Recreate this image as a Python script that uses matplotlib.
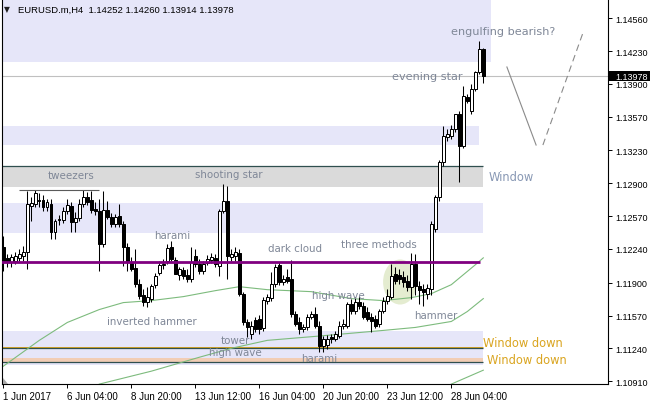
import matplotlib
matplotlib.use("Agg")
import matplotlib.pyplot as plt
from matplotlib.patches import Rectangle, Ellipse, Polygon
import numpy as np

# ---------------- data (H4 candles, EURUSD) ----------------
opens = [1.1226, 1.1215, 1.1211, 1.1212, 1.1215, 1.1217, 1.1221, 1.1267, 1.1269, 1.1273,
         1.1273, 1.1266, 1.1269, 1.1241, 1.1253, 1.1253, 1.1262, 1.1267, 1.1251, 1.1255,
         1.1269, 1.1276, 1.1273, 1.1264, 1.1262, 1.1229, 1.1263, 1.1256, 1.1249, 1.1257,
         1.1249, 1.1226, 1.1211, 1.1205, 1.1189, 1.1178, 1.1171, 1.1174, 1.1188, 1.1200,
         1.1208, 1.1212, 1.1226, 1.1213, 1.1198, 1.1203, 1.1198, 1.1194, 1.1217, 1.1209,
         1.1202, 1.1210, 1.1213, 1.1215, 1.1207, 1.1262, 1.1272, 1.1216, 1.1217, 1.1220,
         1.1179, 1.1150, 1.1138, 1.1152, 1.1153, 1.1144, 1.1172, 1.1175, 1.1189, 1.1208,
         1.1191, 1.1196, 1.1194, 1.1159, 1.1150, 1.1143, 1.1145, 1.1155, 1.1159, 1.1146,
         1.1126, 1.1127, 1.1135, 1.1133, 1.1136, 1.1146, 1.1146, 1.1169, 1.1162, 1.1171,
         1.1167, 1.1161, 1.1155, 1.1153, 1.1148, 1.1162, 1.1172, 1.1176, 1.1199, 1.1198,
         1.1196, 1.1192, 1.1186, 1.1209, 1.1187, 1.1184, 1.1179, 1.1184, 1.1244, 1.1276,
         1.1311, 1.1337, 1.1338, 1.1345, 1.1360, 1.1328, 1.1377, 1.1363, 1.1385, 1.1402,
         1.14252]
highs = [1.1237, 1.1219, 1.1219, 1.1221, 1.1224, 1.1227, 1.1282, 1.1276, 1.1283, 1.1280,
         1.1278, 1.1274, 1.1274, 1.1254, 1.1258, 1.1266, 1.1274, 1.1271, 1.1261, 1.1274,
         1.1283, 1.1281, 1.1282, 1.1271, 1.1274, 1.1282, 1.1272, 1.1260, 1.1259, 1.1269,
         1.1252, 1.1230, 1.1216, 1.1224, 1.1194, 1.1184, 1.1186, 1.1189, 1.1200, 1.1212,
         1.1214, 1.1229, 1.1232, 1.1216, 1.1206, 1.1206, 1.1204, 1.1226, 1.1224, 1.1214,
         1.1212, 1.1218, 1.1220, 1.1219, 1.1264, 1.1289, 1.1287, 1.1224, 1.1226, 1.1224,
         1.1181, 1.1153, 1.1151, 1.1156, 1.1158, 1.1176, 1.1179, 1.1201, 1.1209, 1.1211,
         1.1198, 1.1204, 1.1213, 1.1162, 1.1155, 1.1148, 1.1159, 1.1162, 1.1166, 1.1151,
         1.1136, 1.1137, 1.1138, 1.1141, 1.1151, 1.1153, 1.1171, 1.1174, 1.1176, 1.1177,
         1.1171, 1.1166, 1.1160, 1.1158, 1.1164, 1.1176, 1.1184, 1.1209, 1.1206, 1.1204,
         1.1202, 1.1198, 1.1220, 1.1219, 1.1192, 1.1189, 1.1189, 1.1252, 1.1278, 1.1313,
         1.1348, 1.1345, 1.1349, 1.1360, 1.1363, 1.1388, 1.1380, 1.1390, 1.1403, 1.1433,
         1.14260]
lows = [1.1202, 1.1206, 1.1206, 1.1209, 1.1212, 1.1212, 1.1204, 1.1252, 1.1266, 1.1266,
        1.1262, 1.1262, 1.1234, 1.1234, 1.1248, 1.1250, 1.1259, 1.1241, 1.1241, 1.1252,
        1.1266, 1.1268, 1.1260, 1.1258, 1.1202, 1.1226, 1.1254, 1.1246, 1.1246, 1.1246,
        1.1207, 1.1202, 1.1202, 1.1186, 1.1174, 1.1167, 1.1166, 1.1171, 1.1185, 1.1198,
        1.1204, 1.1209, 1.1212, 1.1199, 1.1193, 1.1194, 1.1191, 1.1191, 1.1206, 1.1199,
        1.1199, 1.1208, 1.1210, 1.1206, 1.1197, 1.1260, 1.1194, 1.1212, 1.1212, 1.1177,
        1.1147, 1.1135, 1.1133, 1.1140, 1.1138, 1.1141, 1.1169, 1.1172, 1.1186, 1.1188,
        1.1188, 1.1190, 1.1156, 1.1146, 1.1138, 1.1140, 1.1142, 1.1153, 1.1144, 1.1120,
        1.1120, 1.1123, 1.1129, 1.1131, 1.1134, 1.1143, 1.1144, 1.1159, 1.1159, 1.1164,
        1.1153, 1.1151, 1.1140, 1.1144, 1.1145, 1.1160, 1.1169, 1.1174, 1.1189, 1.1189,
        1.1186, 1.1182, 1.1174, 1.1178, 1.1169, 1.1167, 1.1174, 1.1178, 1.1241, 1.1272,
        1.1307, 1.1333, 1.1335, 1.1342, 1.1291, 1.1326, 1.1371, 1.1360, 1.1383, 1.1400,
        1.13914]
closes = [1.1212, 1.1211, 1.1216, 1.1217, 1.1219, 1.1221, 1.1269, 1.1270, 1.1280, 1.1272,
          1.1266, 1.1271, 1.1241, 1.1252, 1.1254, 1.1262, 1.1268, 1.1251, 1.1255, 1.1269,
          1.1276, 1.1271, 1.1263, 1.1262, 1.1229, 1.1263, 1.1256, 1.1249, 1.1256, 1.1249,
          1.1226, 1.1211, 1.1204, 1.1189, 1.1177, 1.1171, 1.1176, 1.1187, 1.1197, 1.1208,
          1.1209, 1.1225, 1.1214, 1.1199, 1.1204, 1.1197, 1.1194, 1.1211, 1.1209, 1.1202,
          1.1209, 1.1214, 1.1216, 1.1209, 1.1262, 1.1272, 1.1217, 1.1219, 1.1221, 1.1179,
          1.1150, 1.1145, 1.1146, 1.1143, 1.1143, 1.1173, 1.1176, 1.1189, 1.1206, 1.1191,
          1.1194, 1.1192, 1.1159, 1.1148, 1.1143, 1.1145, 1.1156, 1.1159, 1.1146, 1.1126,
          1.1133, 1.1133, 1.1133, 1.1138, 1.1146, 1.1148, 1.1169, 1.1162, 1.1171, 1.1167,
          1.1155, 1.1153, 1.1151, 1.1146, 1.1162, 1.1172, 1.1177, 1.1197, 1.1192, 1.1194,
          1.1191, 1.1186, 1.1209, 1.1187, 1.1183, 1.1181, 1.1185, 1.1249, 1.1276, 1.1311,
          1.1338, 1.1340, 1.1345, 1.1360, 1.1328, 1.1378, 1.1373, 1.1385, 1.1402, 1.1425,
          1.13978]

xtick_idx = [0, 16, 32, 48, 64, 80, 96, 112]
xtick_labels = ["1 Jun 2017", "6 Jun 04:00", "8 Jun 20:00", "13 Jun 12:00",
                "16 Jun 04:00", "20 Jun 20:00", "23 Jun 12:00", "28 Jun 04:00"]
ytick_vals = [1.14560, 1.14230, 1.13900, 1.13570, 1.13230, 1.12900,
              1.12570, 1.12240, 1.11900, 1.11570, 1.11240, 1.10910]

# moving averages
ma1_idx = [0, 9, 16, 24, 30, 37, 45, 53, 59, 66, 77, 87, 95, 102, 107, 112, 115, 118, 120]
ma1_val = [1.1106, 1.1132, 1.1150, 1.1163, 1.1170, 1.1172, 1.1176, 1.1182, 1.1186, 1.1183,
           1.1181, 1.1174, 1.1172, 1.1175, 1.1179, 1.1188, 1.1198, 1.1208, 1.1215]
ma2_idx = [24, 27, 37, 49, 57, 66, 78, 95, 103, 112, 116, 120]
ma2_val = [1.1088, 1.1091, 1.1101, 1.1115, 1.1124, 1.1132, 1.1136, 1.1142, 1.1145,
           1.1151, 1.1161, 1.1174]
ma3_idx = [112, 116, 120]
ma3_val = [1.1088, 1.1095, 1.1102]

# zones (bottom price, top price, right end bar index)
lavender_zones = [(1.1412, 1.1490, 121.8), (1.13288, 1.13476, 119.0),
                  (1.12397, 1.12702, 120.0), (1.11075, 1.11417, 120.0)]
grey_zone = (1.12866, 1.13077, 120.0)
peach_zone = (1.11099, 1.11142, 120.0)
purple_level = 1.12108
window_down_levels = [1.11240, 1.11099]
tweezers_level = 1.1283
tweezers_span = (4, 24)
circle_center = (99.2, 1.11907)

proj1_idx = [125.9, 133.2]
proj1_val = [1.1407, 1.13285]
proj2_idx = [134.9, 144.9]
proj2_val = [1.13285, 1.14412]

labels = [("tweezers", 16.9, 1.12983), ("shooting star", 56.3, 1.12994),
          ("harami", 42.1, 1.12380), ("dark cloud", 72.9, 1.12249),
          ("three methods", 93.9, 1.12292), ("high wave", 83.8, 1.11779),
          ("hammer", 108.1, 1.11575), ("inverted hammer", 37.05, 1.11518),
          ("tower", 58.0, 1.11327), ("high wave", 57.9, 1.11200),
          ("harami", 78.9, 1.11139)]
big_labels = [("evening star", 105.9, 1.13979), ("engulfing bearish?", 124.9, 1.14435)]

# ---------------- figure ----------------
W, H = 650, 406
fig = plt.figure(figsize=(W / 100, H / 100), dpi=100)
fig.patch.set_facecolor("white")
ax = fig.add_axes([2 / W, 21 / H, 606 / W, 385 / H])
ax.set_xlim(-0.325, 151.175)
ax.set_ylim(1.10881, 1.14754)
ax.set_facecolor("white")

LAV = "#E6E6F9"
for lo, hi, right in lavender_zones:
    ax.add_patch(Rectangle((-5, lo), right + 5, hi - lo, fc=LAV, ec="none", zorder=0.5))
lo, hi, right = grey_zone
ax.add_patch(Rectangle((-5, lo), right + 5, hi - lo, fc="#DADADA", ec="none", zorder=0.5))
ax.hlines(hi, -5, right, color="#2F4F4F", lw=0.9, zorder=0.7)
lo, hi, right = peach_zone
ax.add_patch(Rectangle((-5, lo), right + 5, hi - lo, fc="#F2CDB5", ec="none", zorder=0.6))
ax.hlines(window_down_levels[0] + 0.0001, -5, 120, color="#DAA520", lw=0.7, zorder=0.7)
for lv in window_down_levels:
    ax.hlines(lv, -5, 120, color="#2F4F4F", lw=0.9, zorder=0.8)

ax.add_patch(Ellipse(circle_center, 8.5, 0.00453, fc="#E4ECD0", ec="none", zorder=0.9))

ax.axhline(closes[-1], color="#C0C0C0", lw=0.8, zorder=0.8)

GREEN = "#7DBB7D"
for xi, yv in [(ma1_idx, ma1_val), (ma2_idx, ma2_val), (ma3_idx, ma3_val)]:
    ax.plot(xi, yv, color=GREEN, lw=0.8, zorder=2.5)

# candles
idx = np.arange(len(opens))
o = np.array(opens); h = np.array(highs); l = np.array(lows); c = np.array(closes)
up = c >= o
ax.vlines(idx, l, h, color="black", lw=0.75, zorder=3)
ax.bar(idx, np.abs(c - o), bottom=np.minimum(o, c), width=0.6,
       color=np.where(up, "white", "black"), edgecolor="black", linewidth=0.72, zorder=3.2)

ax.hlines(purple_level, -5, 119.2, color="#800080", lw=2.0, zorder=3.5)
ax.hlines(tweezers_level, tweezers_span[0], tweezers_span[1], color="#5A5A5A", lw=0.8, zorder=3.5)

ax.plot(proj1_idx, proj1_val, color="#8A8A8A", lw=0.8, zorder=3)
ax.plot(proj2_idx, proj2_val, color="#8A8A8A", lw=0.8, ls=(0, (6, 4)), zorder=3)

TXT = "#7F8797"
for s, xi, yv in labels:
    ax.text(xi, yv, s, ha="center", va="center", fontsize=7.4, color=TXT,
            family="DejaVu Sans", zorder=4)
for s, xi, yv in big_labels:
    ax.text(xi, yv, s, ha="center", va="center", fontsize=8.1, color=TXT,
            family="DejaVu Sans", zorder=4)
ax.text(126.9, 1.1297, "Window", ha="center", va="center", fontsize=8.3,
        color="#8898B4", family="DejaVu Sans", zorder=4)
ax.text(129.9, 1.1130, "Window down", ha="center", va="center", fontsize=8.3,
        color="#DAA520", family="DejaVu Sans", zorder=4)
ax.text(130.9, 1.11125, "Window down", ha="center", va="center", fontsize=8.3,
        color="#DAA520", family="DejaVu Sans", zorder=4)

# axes styling
for side in ["left", "right", "bottom"]:
    ax.spines[side].set_color("black")
    ax.spines[side].set_linewidth(0.8)
ax.spines["top"].set_visible(False)

ax.yaxis.tick_right()
ax.set_yticks(ytick_vals)
ax.set_yticklabels([f"{v:.5f}" for v in ytick_vals], family="Liberation Sans")
ax.tick_params(axis="y", direction="out", length=3, width=0.7, pad=2, labelsize=6.5)
ax.set_xticks(xtick_idx)
ax.set_xticklabels(xtick_labels, ha="left", family="Liberation Sans")
ax.tick_params(axis="x", direction="out", length=3, width=0.7, pad=2, labelsize=7)

# current price box on the price scale
fig.canvas.draw()
ypix = ax.transData.transform((0, closes[-1]))[1]
fig.add_artist(Rectangle((609 / W, (ypix - 5) / H), 41 / W, 10 / H,
                         transform=fig.transFigure, fc="black", ec="none", zorder=5))
fig.text(615 / W, ypix / H, f"{closes[-1]:.5f}", color="white", fontsize=6.5,
         family="Liberation Sans", va="center", ha="left", zorder=6)

# title
fig.text(4 / W, 1 - 10 / H, "\u25BC", fontsize=5.5, family="DejaVu Sans", va="center", color="#202020")
fig.text(18 / W, 1 - 10 / H,
         f"EURUSD.m,H4  {opens[-1]:.5f} {highs[-1]:.5f} {lows[-1]:.5f} {closes[-1]:.5f}",
         fontsize=6.8, family="Liberation Sans", va="center", color="black")

# shift marker
fig.add_artist(Polygon([(3 / W, 21 / H), (3 / W, 27 / H), (8 / W, 21 / H)],
                       closed=True, transform=fig.transFigure, fc="#A8A8A8", ec="none"))

fig.savefig("out.png", dpi=100)
